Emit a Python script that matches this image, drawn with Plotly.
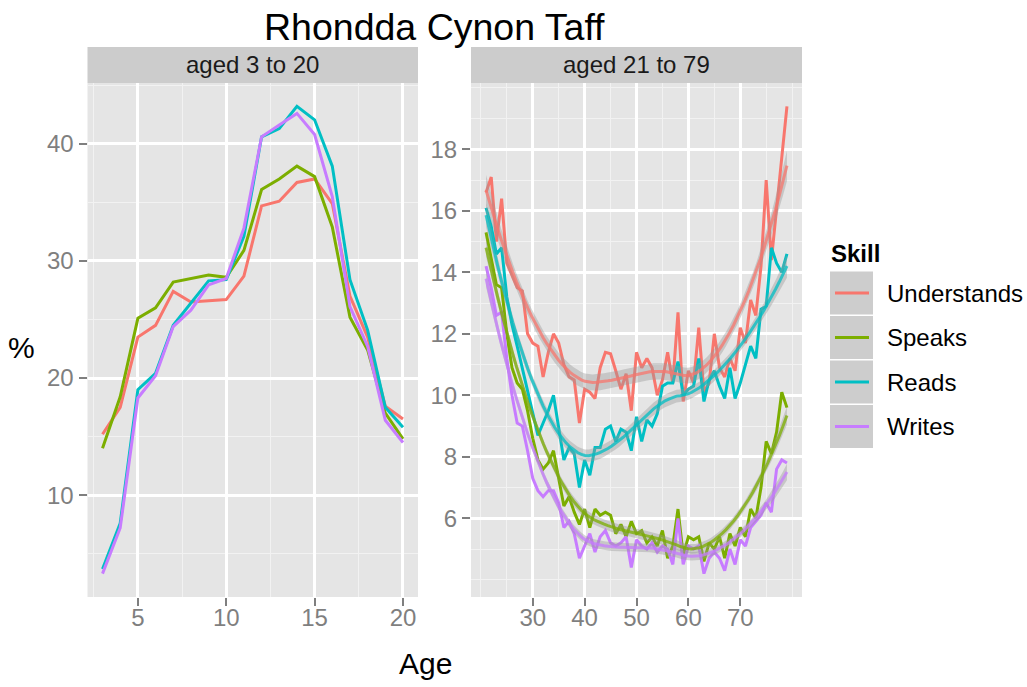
import math
import numpy as np
import plotly.graph_objects as go

W, H = 1027, 687

skills = ["Understands", "Speaks", "Reads", "Writes"]
colors = {"Understands": "#F8766D", "Speaks": "#7CAE00", "Reads": "#00BFC4", "Writes": "#C77CFF"}

# ---- panel "aged 3 to 20" ----
ages_young = list(range(3, 21))
young_understands = [15.2, 17.5, 23.5, 24.5, 27.4, 26.5, 26.6, 26.7, 28.7, 34.7, 35.1, 36.7, 37.0, 34.9, 27.0, 23.5, 17.6, 16.5]
young_speaks = [14.0, 18.4, 25.1, 26.0, 28.2, 28.5, 28.8, 28.6, 30.9, 36.1, 37.0, 38.1, 37.2, 32.9, 25.2, 22.4, 17.0, 14.8]
young_reads = [3.7, 7.6, 19.0, 20.4, 24.5, 26.4, 28.3, 28.4, 32.1, 40.6, 41.3, 43.2, 42.05, 38.1, 28.4, 24.1, 17.5, 15.8]
young_writes = [3.3, 7.2, 18.3, 20.2, 24.4, 25.8, 27.95, 28.5, 32.8, 40.6, 41.6, 42.6, 40.8, 35.5, 26.1, 22.7, 16.4, 14.5]

# ---- panel "aged 21 to 79" ----
ages_adult = list(range(21, 80))
adult_understands = [16.6, 17.1, 15.0, 16.4, 14.3, 13.9, 13.5, 13.4, 12.0, 11.7,
                     11.6, 10.6, 11.4, 12.0, 11.7, 11.0, 10.6, 10.5, 9.1, 10.2,
                     10.1, 9.9, 10.9, 11.4, 11.35, 10.8, 10.2, 10.7, 9.5, 11.4,
                     10.9, 11.2, 10.9, 10.0, 10.5, 11.4, 10.4, 12.7, 9.8, 10.8,
                     10.4, 12.2, 10.1, 10.4, 12.0, 10.9, 10.6, 11.2, 10.8, 12.2,
                     11.7, 13.1, 12.6, 14.2, 17.0, 14.4, 16.0, 17.7, 19.4]
adult_speaks = [15.3, 14.5, 13.6, 13.5, 12.0, 10.9, 10.4, 10.2, 9.5, 8.6,
                7.9, 7.6, 7.8, 8.2, 7.3, 6.4, 6.7, 6.2, 5.8, 6.3,
                5.7, 6.3, 6.1, 6.2, 6.1, 5.5, 5.8, 5.4, 5.9, 5.5,
                5.6, 5.2, 5.4, 5.1, 5.6, 4.7, 5.1, 6.3, 4.8, 5.4,
                5.3, 5.4, 4.6, 5.2, 5.0, 5.4, 4.7, 5.5, 5.1, 5.7,
                5.4, 6.3, 6.0, 7.0, 8.5, 8.1, 8.8, 10.1, 9.6]
adult_reads = [16.1, 15.5, 14.6, 14.8, 13.2, 12.3, 11.6, 10.9, 10.1, 9.4,
               8.7, 9.1, 9.5, 10.0, 8.9, 7.9, 8.3, 8.1, 7.0, 7.9,
               7.4, 8.3, 8.3, 8.9, 9.0, 8.5, 8.9, 8.8, 8.2, 9.3,
               8.5, 9.2, 9.0, 9.4, 10.3, 10.4, 10.4, 11.1, 10.0, 10.2,
               10.3, 11.2, 9.8, 10.5, 10.8, 10.3, 9.9, 10.9, 9.9, 10.4,
               11.0, 11.6, 11.2, 12.8, 12.9, 14.8, 14.3, 14.0, 14.6]
adult_writes = [14.2, 13.5, 12.6, 12.7, 11.2, 10.0, 9.1, 9.0, 8.2, 7.3,
                6.9, 6.7, 6.9, 6.9, 6.5, 5.7, 5.9, 5.5, 4.7, 5.1,
                5.5, 4.9, 5.4, 5.6, 5.2, 5.1, 5.2, 5.4, 4.4, 5.3,
                5.1, 5.0, 5.2, 4.9, 5.1, 5.0, 4.5, 6.0, 4.5, 5.1,
                5.0, 5.1, 4.2, 4.7, 4.9, 4.7, 4.3, 5.0, 4.5, 5.3,
                5.1, 5.7, 5.9, 6.1, 6.5, 6.2, 7.6, 7.9, 7.8]

young = dict(zip(skills, [young_understands, young_speaks, young_reads, young_writes]))
adult = dict(zip(skills, [adult_understands, adult_speaks, adult_reads, adult_writes]))

panel_labels = ["aged 3 to 20", "aged 21 to 79"]
title_text = "Rhondda Cynon Taff"
x_title = "Age"
y_title = "%"
legend_title = "Skill"

SMOOTH_SPAN = 0.75
SMOOTH_LEVEL = 0.75


def norm_quantile(p):
    lo, hi = -10.0, 10.0
    for _ in range(100):
        mid = (lo + hi) / 2
        if 0.5 * (1 + math.erf(mid / math.sqrt(2))) < p:
            lo = mid
        else:
            hi = mid
    return (lo + hi) / 2


def loess_smooth(x, y, xs, span=SMOOTH_SPAN, level=SMOOTH_LEVEL):
    """Local quadratic regression (tricube weights) with a confidence band, like geom_smooth's loess."""
    x = np.asarray(x, float)
    y = np.asarray(y, float)
    n = len(x)
    q = int(np.floor(n * span))

    def row(x0):
        d = np.abs(x - x0)
        h = np.sort(d)[q - 1] * 1.0001
        u = np.clip(d / h, 0, 1)
        w = (1 - u ** 3) ** 3
        X = np.vstack([np.ones(n), x - x0, (x - x0) ** 2]).T
        WX = X * w[:, None]
        A = X.T @ WX
        return np.linalg.solve(A, WX.T)[0]

    L = np.array([row(v) for v in x])
    resid = y - L @ y
    IL = np.eye(n) - L
    D = IL.T @ IL
    d1 = np.trace(D)
    d2 = np.trace(D @ D)
    sigma = np.sqrt(np.sum(resid ** 2) / d1)
    df = d1 ** 2 / d2
    z = norm_quantile(0.5 + level / 2)
    t = z + (z ** 3 + z) / (4 * df) + (5 * z ** 5 + 16 * z ** 3 + 3 * z) / (96 * df ** 2)
    Ls = np.array([row(v) for v in xs])
    fit = Ls @ y
    se = sigma * np.sqrt(np.sum(Ls ** 2, axis=1))
    return fit, fit - t * se, fit + t * se


xs = np.linspace(min(ages_adult), max(ages_adult), 80)
smooths = {s: loess_smooth(ages_adult, adult[s], xs) for s in skills}

fig = go.Figure()

# left panel lines
for s in skills:
    fig.add_trace(go.Scatter(x=ages_young, y=young[s], mode="lines", name=s,
                             line=dict(color=colors[s], width=3), xaxis="x", yaxis="y",
                             showlegend=False, hoverinfo="skip"))
# right panel raw lines
for s in skills:
    fig.add_trace(go.Scatter(x=ages_adult, y=adult[s], mode="lines", name=s,
                             line=dict(color=colors[s], width=3), xaxis="x2", yaxis="y2",
                             showlegend=False, hoverinfo="skip"))
# right panel smooths with confidence bands
for s in skills:
    fit, lo, hi = smooths[s]
    fig.add_trace(go.Scatter(x=np.concatenate([xs, xs[::-1]]), y=np.concatenate([hi, lo[::-1]]),
                             mode="lines", fill="toself", fillcolor="rgba(153,153,153,0.4)",
                             line=dict(width=0), xaxis="x2", yaxis="y2",
                             showlegend=False, hoverinfo="skip"))
    fig.add_trace(go.Scatter(x=xs, y=fit, mode="lines", line=dict(color=colors[s], width=3),
                             opacity=0.75, xaxis="x2", yaxis="y2", showlegend=False, hoverinfo="skip"))


def expand(lo, hi, f=0.05):
    d = hi - lo
    return [lo - f * d, hi + f * d]


yl_vals = np.concatenate([young[s] for s in skills])
yr_vals = np.concatenate([np.concatenate([adult[s], smooths[s][1], smooths[s][2]]) for s in skills])

# pixel layout
px_l = (87.5, 418.0)
px_r = (471.0, 802.0)
py_top, py_bot = 83.0, 597.0
strip_top = 47.0


def fx(px):
    return px / W


def fy(py):
    return 1 - py / H


grey50 = "#7F7F7F"
font_family = "Liberation Sans, Arial, sans-serif"
tickfont = dict(family=font_family, size=24, color=grey50)
common = dict(showgrid=True, gridcolor="white", gridwidth=2.5, zeroline=False, showline=False,
              ticks="outside", ticklen=8, tickwidth=2, tickcolor=grey50, tickfont=tickfont,
              tickmode="array", fixedrange=True)


def minor(vals):
    return dict(tickmode="array", tickvals=vals, showgrid=True, gridcolor="#F2F2F2", gridwidth=1.3, ticks="")


fig.update_layout(
    width=W, height=H,
    margin=dict(l=0, r=0, t=0, b=0),
    paper_bgcolor="white", plot_bgcolor="#E5E5E5",
    showlegend=False,
    xaxis=dict(domain=[fx(px_l[0]), fx(px_l[1])], range=expand(min(ages_young), max(ages_young)),
               tickvals=[5, 10, 15, 20], minor=minor([2.5, 7.5, 12.5, 17.5]), anchor="y",
               ticklabelstandoff=-9, **common),
    yaxis=dict(domain=[fy(py_bot), fy(py_top)], range=expand(yl_vals.min(), yl_vals.max()),
               tickvals=[10, 20, 30, 40], minor=minor([5, 15, 25, 35, 45]), anchor="x", **common),
    xaxis2=dict(domain=[fx(px_r[0]), fx(px_r[1])], range=expand(min(ages_adult), max(ages_adult)),
                tickvals=[30, 40, 50, 60, 70], minor=minor([20, 25, 35, 45, 55, 65, 75, 80]),
                anchor="y2", ticklabelstandoff=-9, **common),
    yaxis2=dict(domain=[fy(py_bot), fy(py_top)], range=expand(yr_vals.min(), yr_vals.max()),
                tickvals=[6, 8, 10, 12, 14, 16, 18], minor=minor([4, 5, 7, 9, 11, 13, 15, 17, 19, 20]),
                anchor="x2", **common),
)

shapes = []
annotations = []

# strips
for (a, b), lab in zip([px_l, px_r], panel_labels):
    shapes.append(dict(type="rect", xref="paper", yref="paper", x0=fx(a), x1=fx(b),
                       y0=fy(py_top), y1=fy(strip_top), fillcolor="#CCCCCC", line=dict(width=0), layer="below"))
    annotations.append(dict(text=lab, xref="paper", yref="paper", x=fx((a + b) / 2), y=fy((strip_top + py_top) / 2),
                            xanchor="center", yanchor="middle", showarrow=False,
                            font=dict(family=font_family, size=24, color="#1A1A1A")))

# title and axis titles
annotations.append(dict(text=title_text, xref="paper", yref="paper", x=fx(434), y=fy(27),
                        xanchor="center", yanchor="middle", showarrow=False,
                        font=dict(family=font_family, size=37.5, color="black")))
annotations.append(dict(text=x_title, xref="paper", yref="paper", x=fx(425), y=fy(663),
                        xanchor="center", yanchor="middle", showarrow=False,
                        font=dict(family=font_family, size=30, color="black")))
annotations.append(dict(text=y_title, xref="paper", yref="paper", x=fx(21), y=fy(347),
                        xanchor="center", yanchor="middle", showarrow=False,
                        font=dict(family=font_family, size=30, color="black")))

# legend (drawn by hand to reproduce ggplot's key boxes)
annotations.append(dict(text="<b>" + legend_title + "</b>", xref="paper", yref="paper", x=fx(829), y=fy(253),
                        xanchor="left", yanchor="middle", showarrow=False,
                        font=dict(family=font_family, size=24, color="black")))
key_top0, key_step, key_h = 271.5, 44.5, 43.0
for i, s in enumerate(skills):
    t0 = key_top0 + i * key_step
    cy = t0 + key_h / 2
    shapes.append(dict(type="rect", xref="paper", yref="paper", x0=fx(830), x1=fx(873),
                       y0=fy(t0 + key_h), y1=fy(t0), fillcolor="#CDCDCD", line=dict(width=0)))
    shapes.append(dict(type="line", xref="paper", yref="paper", x0=fx(835), x1=fx(869),
                       y0=fy(cy), y1=fy(cy), line=dict(color=colors[s], width=3)))
    annotations.append(dict(text=s, xref="paper", yref="paper", x=fx(885), y=fy(cy),
                            xanchor="left", yanchor="middle", showarrow=False,
                            font=dict(family=font_family, size=24, color="black")))

fig.update_layout(shapes=shapes, annotations=annotations)
fig.write_html("out.html", config={"displayModeBar": False},
               post_script="document.body.style.margin='0';document.body.style.overflow='hidden';")
